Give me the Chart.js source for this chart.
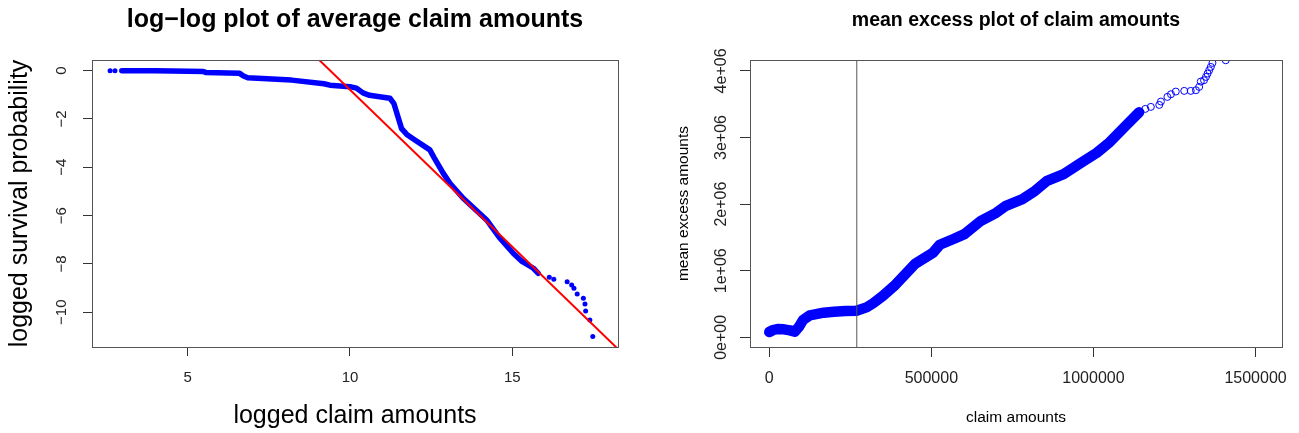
<!DOCTYPE html>
<html>
<head>
<meta charset="utf-8">
<title>claim amounts</title>
<script src="https://cdn.jsdelivr.net/npm/chart.js"></script>
<style>
  body { margin: 0; background: #fff; }
  #wrap { position: relative; width: 1299px; height: 433px; }
  canvas { position: absolute; top: 0; }
  #left { left: 0; }
  #right { left: 650px; }
</style>
</head>
<body>
<div id="wrap">
  <canvas id="left" width="650" height="433"></canvas>
  <canvas id="right" width="649" height="433"></canvas>
</div>
<script>
// --- left: log-log plot ---
const bandX = [2.97, 4.0, 5.0, 5.48, 5.55, 6.6, 6.72, 6.85, 8.2, 9.2, 9.38, 10.0, 10.2, 10.4, 10.6, 11.23, 11.35, 11.59, 11.75, 12.0, 12.46, 12.6, 12.87, 13.08, 13.48, 14.21, 14.6, 15.03, 15.3, 15.65, 15.8];
const bandY = [0, 0, -0.02, -0.03, -0.07, -0.11, -0.22, -0.29, -0.39, -0.54, -0.6, -0.66, -0.72, -0.92, -1.02, -1.14, -1.35, -2.4, -2.64, -2.87, -3.28, -3.62, -4.24, -4.66, -5.27, -6.18, -6.9, -7.56, -7.9, -8.18, -8.39];
const tailX = [2.61, 2.76, 16.14, 16.28, 16.69, 16.83, 16.9, 17.0, 17.19, 17.24, 17.26, 17.39, 17.48];
const tailY = [0, 0, -8.55, -8.64, -8.74, -8.87, -9.01, -9.25, -9.42, -9.66, -9.95, -10.32, -11.01];
const fitIntercept = 12.21;
const fitSlope = -1.30;
const leftXTicks = [5, 10, 15];
const leftYTicks = [0, -2, -4, -6, -8, -10];

// --- right: mean excess plot ---
const meX = [0, 12000, 25000, 45000, 64000, 79000, 92000, 104000, 125000, 168000, 200000, 235000, 269000, 300000, 320000, 350000, 385000, 449000, 505000, 526000, 570000, 602000, 653000, 700000, 730000, 781000, 820000, 857000, 908000, 965000, 1010000, 1050000, 1100000, 1141000];
const meY = [0.08e6, 0.11e6, 0.125e6, 0.12e6, 0.105e6, 0.085e6, 0.16e6, 0.26e6, 0.33e6, 0.37e6, 0.385e6, 0.395e6, 0.40e6, 0.45e6, 0.51e6, 0.62e6, 0.77e6, 1.1e6, 1.27e6, 1.39e6, 1.48e6, 1.55e6, 1.75e6, 1.87e6, 1.975e6, 2.075e6, 2.2e6, 2.35e6, 2.45e6, 2.63e6, 2.77e6, 2.93e6, 3.18e6, 3.38e6];
const meSparseX = [1110000, 1125000, 1141000, 1160000, 1177000, 1203000, 1208000, 1228000, 1239000, 1254000, 1280000, 1300000, 1316000, 1326000, 1331000, 1341000, 1347000, 1352000, 1357000, 1362000, 1367000, 1408000];
const meSparseY = [3.24e6, 3.3e6, 3.39e6, 3.43e6, 3.46e6, 3.49e6, 3.54e6, 3.61e6, 3.65e6, 3.69e6, 3.7e6, 3.7e6, 3.71e6, 3.76e6, 3.84e6, 3.86e6, 3.91e6, 3.96e6, 4.01e6, 4.06e6, 4.12e6, 4.16e6];
const threshold = 270000;
const rightXTicks = [0, 500000, 1000000, 1500000];
const rightYTicks = [0, 1e6, 2e6, 3e6, 4e6];
const rightYTickLabels = ['0e+00', '1e+06', '2e+06', '3e+06', '4e+06'];

const zip = (xs, ys) => xs.map((x, i) => ({ x: x, y: ys[i] }));

Chart.defaults.font.family = '"Liberation Sans", Arial, sans-serif';
Chart.defaults.color = '#222';

// box round the plot region + main title
const frame = {
  id: 'frame',
  afterDraw(chart, args, opts) {
    const { ctx, chartArea: a } = chart;
    ctx.save();
    ctx.strokeStyle = '#555';
    ctx.lineWidth = 1;
    ctx.strokeRect(Math.round(a.left) + 0.5, Math.round(a.top) + 0.5,
                   Math.round(a.right - a.left), Math.round(a.bottom - a.top));
    ctx.fillStyle = '#000';
    ctx.font = opts.font;
    ctx.textAlign = 'center';
    ctx.textBaseline = 'alphabetic';
    ctx.fillText(opts.text, (a.left + a.right) / 2, opts.y);
    ctx.restore();
  }
};

function setTicks(values) {
  return scale => { scale.ticks = values.map(v => ({ value: v })); };
}

// left chart
const lx = { min: 2.052, max: 18.257 };
const ly = { min: -11.441, max: 0.443 };

new Chart(document.getElementById('left'), {
  type: 'scatter',
  data: {
    datasets: [
      {
        data: [{ x: lx.min, y: fitIntercept + fitSlope * lx.min }, { x: lx.max, y: fitIntercept + fitSlope * lx.max }],
        showLine: true, borderColor: '#ff0000', borderWidth: 2, pointRadius: 0, clip: 0
      },
      {
        data: zip(tailX, tailY),
        pointRadius: 2.5, backgroundColor: '#0000ff', borderWidth: 0, clip: 0
      },
      {
        data: zip(bandX, bandY),
        showLine: true, borderColor: '#0000ff', borderWidth: 5.5, pointRadius: 0,
        borderCapStyle: 'round', borderJoinStyle: 'round', clip: 0
      }
    ]
  },
  options: {
    responsive: false,
    animation: false,
    layout: { padding: { top: 60, right: 32, left: 0, bottom: 0 } },
    plugins: {
      legend: { display: false },
      tooltip: { enabled: false },
      frame: { text: 'log\u2212log plot of average claim amounts', font: 'bold 25px "Liberation Sans", Arial, sans-serif', y: 27 }
    },
    scales: {
      x: {
        min: lx.min, max: lx.max,
        afterBuildTicks: setTicks(leftXTicks),
        afterFit: s => { s.height = 86; },
        grid: { drawOnChartArea: false, tickLength: 9, tickColor: '#333' },
        border: { display: false },
        ticks: { autoSkip: false, padding: 13, font: { size: 15 }, maxRotation: 0 },
        title: { display: true, text: 'logged claim amounts', color: '#000', font: { size: 25 }, padding: { top: 0, bottom: 2 } }
      },
      y: {
        min: ly.min, max: ly.max,
        afterBuildTicks: setTicks(leftYTicks),
        afterFit: s => { s.width = 92; },
        grid: { drawOnChartArea: false, tickLength: 9, tickColor: '#333' },
        border: { display: false },
        ticks: {
          autoSkip: false, padding: 8.5, font: { size: 15 },
          minRotation: 90, maxRotation: 90, crossAlign: 'center',
          callback: v => String(v).replace('-', '\u2212')
        },
        title: { display: true, text: 'logged survival probability', color: '#000', font: { size: 25 }, padding: { top: 5, bottom: 0 } }
      }
    }
  },
  plugins: [frame]
});

// right chart
const rx = { min: -59400, max: 1581600 };
const ry = { min: -0.145e6, max: 4.164e6 };

new Chart(document.getElementById('right'), {
  type: 'scatter',
  data: {
    datasets: [
      {
        data: [{ x: threshold, y: ry.min }, { x: threshold, y: ry.max }],
        showLine: true, borderColor: '#555', borderWidth: 1, pointRadius: 0, clip: 0
      },
      {
        data: zip(meSparseX, meSparseY),
        pointRadius: 3.5, pointStyle: 'circle', borderColor: '#0000ff', borderWidth: 1,
        backgroundColor: 'rgba(0,0,0,0)', clip: 0
      },
      {
        data: zip(meX, meY),
        showLine: true, borderColor: '#0000ff', borderWidth: 10.5, pointRadius: 0,
        borderCapStyle: 'round', borderJoinStyle: 'round', clip: 0
      }
    ]
  },
  options: {
    responsive: false,
    animation: false,
    layout: { padding: { top: 60, right: 16, left: 0, bottom: 0 } },
    plugins: {
      legend: { display: false },
      tooltip: { enabled: false },
      frame: { text: 'mean excess plot of claim amounts', font: 'bold 19.5px "Liberation Sans", Arial, sans-serif', y: 26 }
    },
    scales: {
      x: {
        min: rx.min, max: rx.max,
        afterBuildTicks: setTicks(rightXTicks),
        afterFit: s => { s.height = 86; },
        grid: { drawOnChartArea: false, tickLength: 10, tickColor: '#333' },
        border: { display: false },
        ticks: { autoSkip: false, padding: 11.5, font: { size: 16 }, maxRotation: 0, callback: v => String(v) },
        title: { display: true, text: 'claim amounts', color: '#000', font: { size: 15.5 }, padding: { top: 0, bottom: 6 } }
      },
      y: {
        min: ry.min, max: ry.max,
        afterBuildTicks: setTicks(rightYTicks),
        afterFit: s => { s.width = 100; },
        grid: { drawOnChartArea: false, tickLength: 10, tickColor: '#333' },
        border: { display: false },
        ticks: {
          autoSkip: false, padding: -4, font: { size: 16 },
          minRotation: 90, maxRotation: 90, crossAlign: 'center',
          callback: (v) => rightYTickLabels[rightYTicks.indexOf(v)]
        },
        title: { display: true, text: 'mean excess amounts', color: '#000', font: { size: 15.5 }, padding: { top: 24, bottom: 0 } }
      }
    }
  },
  plugins: [frame]
});
</script>
</body>
</html>
